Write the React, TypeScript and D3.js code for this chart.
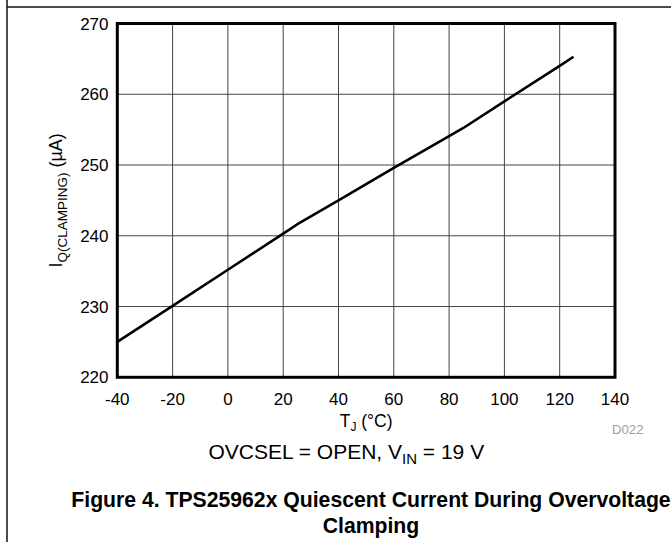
import React from "react";
import * as d3 from "d3";

const temps = [-40, -20, 0, 20, 25, 40, 60, 80, 85, 100, 120, 125];
const current = [225.0, 230.1, 235.2, 240.3, 241.6, 245.0, 249.6, 254.1, 255.2, 259.0, 264.0, 265.3];
const xTicks = [-40, -20, 0, 20, 40, 60, 80, 100, 120, 140];
const yTicks = [220, 230, 240, 250, 260, 270];

const W = 671;
const H = 542;
const L = 117.3, R = 615, T = 23.5, B = 377.3;
const FONT = "'Liberation Sans', Arial, Helvetica, sans-serif";

export default function App() {
  const x = d3.scaleLinear().domain([-40, 140]).range([L, R]);
  const y = d3.scaleLinear().domain([220, 270]).range([B, T]);
  const pts: [number, number][] = temps.map((t, i) => [t, current[i]]);
  const line = d3
    .line<[number, number]>()
    .x((d) => x(d[0]))
    .y((d) => y(d[1]));

  return (
    <svg
      width={W}
      height={H}
      style={{ position: "absolute", left: 0, top: 0, background: "#fff" }}
      fontFamily={FONT}
    >
      <rect x={0} y={0} width={W} height={H} fill="#fff" />
      {/* page frame lines */}
      <line x1={7} y1={7} x2={W} y2={7} stroke="#111" strokeWidth={1.5} />
      <line x1={7} y1={0} x2={7} y2={H} stroke="#111" strokeWidth={1.5} />

      {/* grid */}
      {xTicks.slice(1, -1).map((t) => (
        <line key={"gx" + t} x1={x(t)} x2={x(t)} y1={T} y2={B} stroke="#444" strokeWidth={1} />
      ))}
      {yTicks.slice(1, -1).map((t) => (
        <line key={"gy" + t} x1={L} x2={R} y1={y(t)} y2={y(t)} stroke="#444" strokeWidth={1} />
      ))}

      {/* data */}
      <path d={line(pts) || ""} fill="none" stroke="#000" strokeWidth={2.6} strokeLinejoin="round" />

      {/* plot border */}
      <rect x={L} y={T} width={R - L} height={B - T} fill="none" stroke="#000" strokeWidth={3} />

      {/* tick labels */}
      {xTicks.map((t) => (
        <text key={"tx" + t} x={x(t)} y={405} textAnchor="middle" fontSize={17} fill="#000">
          {t}
        </text>
      ))}
      {yTicks.map((t) => (
        <text key={"ty" + t} x={108.5} y={y(t) + 6} textAnchor="end" fontSize={17} fill="#000">
          {t}
        </text>
      ))}

      {/* x axis title */}
      <text x={(L + R) / 2} y={426.7} textAnchor="middle" fontSize={17.5} fill="#000">
        T
        <tspan fontSize={12} dy={4}>J</tspan>
        <tspan dy={-4}> (°C)</tspan>
      </text>

      {/* y axis title */}
      <text
        transform={`translate(62, ${(T + B) / 2}) rotate(-90)`}
        textAnchor="middle"
        fontSize={18}
        fill="#000"
      >
        I
        <tspan fontSize={13.5} dy={5}>Q(CLAMPING)</tspan>
        <tspan dy={-5}> (µA)</tspan>
      </text>

      {/* figure id */}
      <text x={643.5} y={434} textAnchor="end" fontSize={13.2} fill="#a0a0a0">
        D022
      </text>

      {/* condition */}
      <text x={346.3} y={459.3} textAnchor="middle" fontSize={21} fill="#000">
        OVCSEL = OPEN, V
        <tspan fontSize={15} dy={5}>IN</tspan>
        <tspan dy={-5}> = 19 V</tspan>
      </text>

      {/* caption */}
      <text x={371} y={506.7} textAnchor="middle" fontSize={21.2} fontWeight="bold" fill="#000">
        Figure 4. TPS25962x Quiescent Current During Overvoltage
      </text>
      <text x={371} y={532.7} textAnchor="middle" fontSize={21.2} fontWeight="bold" fill="#000">
        Clamping
      </text>
    </svg>
  );
}
